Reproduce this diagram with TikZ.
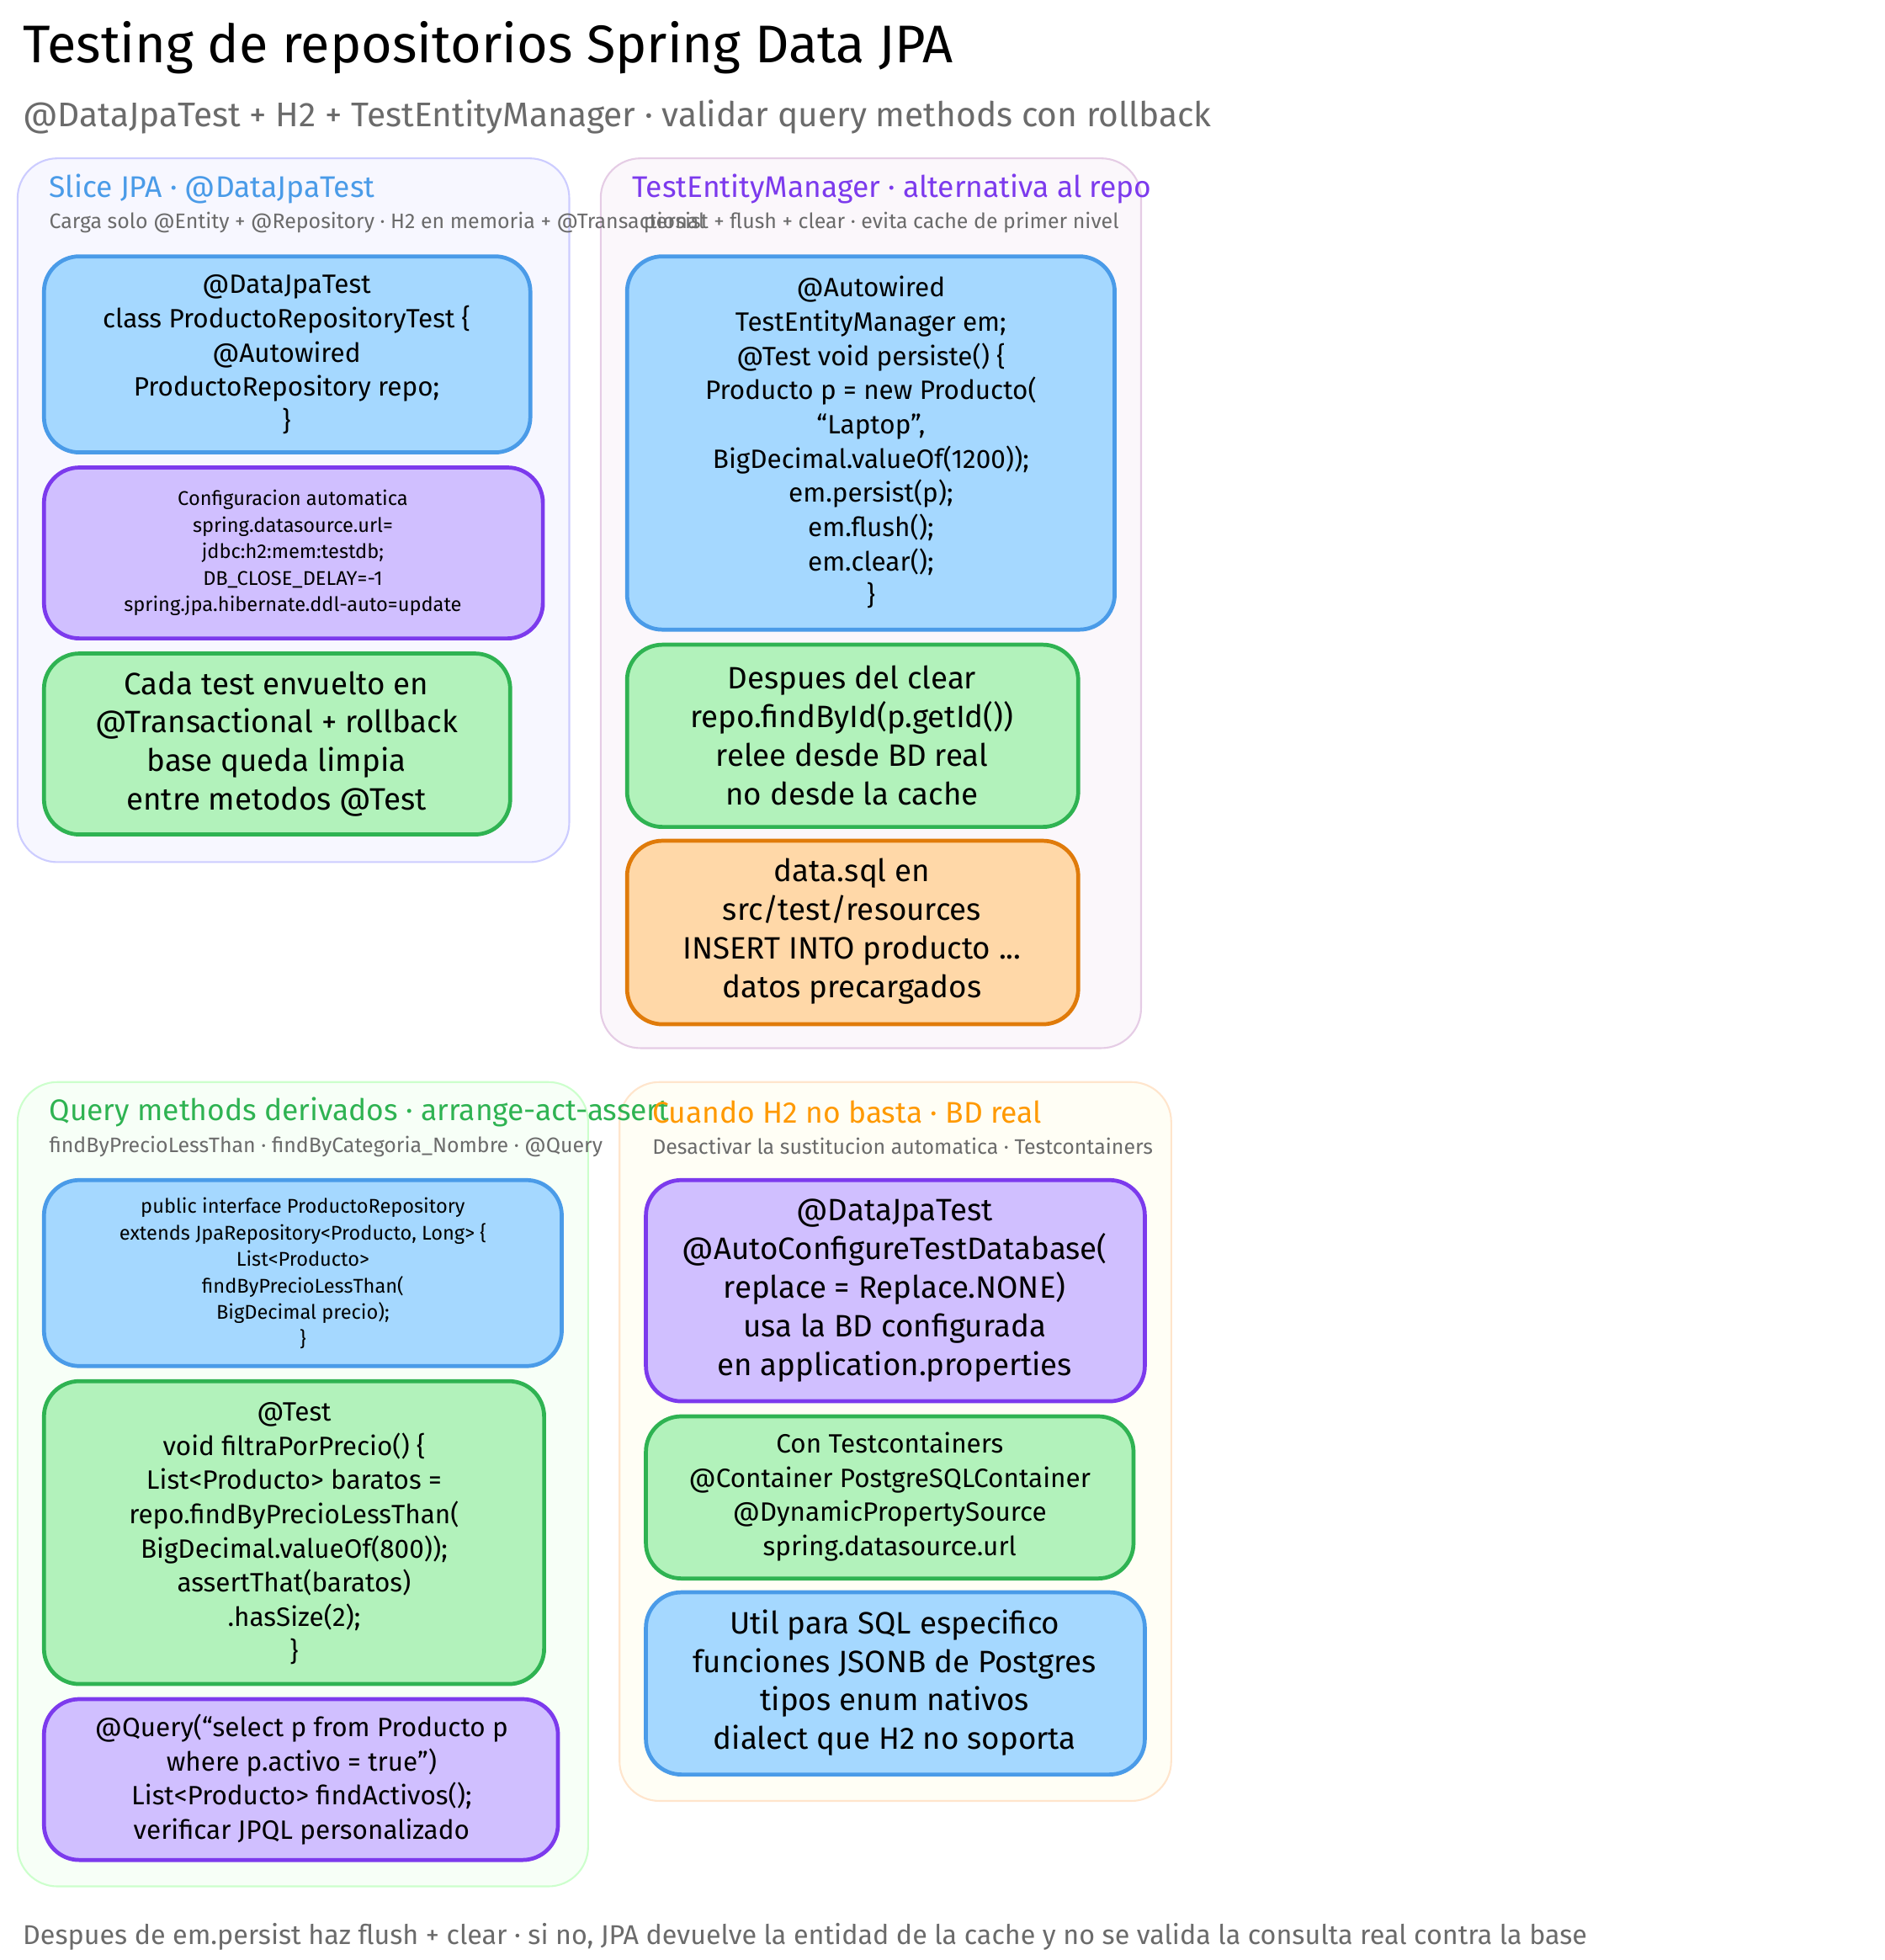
\documentclass[tikz,border=0pt]{standalone}
\usepackage{fontspec}
\setmainfont{Fira Sans}
\definecolor{bluefill}{HTML}{A5D8FF}
\definecolor{blueline}{HTML}{4A9BE8}
\definecolor{purpfill}{HTML}{D0BFFF}
\definecolor{purpline}{HTML}{7C3AED}
\definecolor{greenfill}{HTML}{B2F2BB}
\definecolor{greenline}{HTML}{2FB352}
\definecolor{orfill}{HTML}{FFD8A8}
\definecolor{orline}{HTML}{E07B0A}
\definecolor{txtgray}{HTML}{6B6B6B}
\tikzset{%
    % outer group panels
    group/.style={%
        rounded corners=18pt,
        line width=0.8pt,
    },
    % inner coloured cards
    card/.style={%
        rounded corners=16pt,
        line width=1.8pt,
    },
    blue card/.style={card, fill=bluefill, draw=blueline},
    purple card/.style={card, fill=purpfill, draw=purpline},
    green card/.style={card, fill=greenfill, draw=greenline},
    orange card/.style={card, fill=orfill, draw=orline},
    % text inside cards
    cardtext/.style={%
        align=center,
        font=\fontsize{12}{15.5}\selectfont,
    },
    smalltext/.style={%
        align=center,
        font=\fontsize{9}{12}\selectfont,
    },
    % panel headings
    heading/.style={%
        anchor=west,
        font=\fontsize{13.5}{15}\selectfont,
    },
    subheading/.style={%
        anchor=west, txtgray,
        font=\fontsize{9.5}{11}\selectfont,
    },
}
\begin{document}
\begin{tikzpicture}[x=0.02cm, y=-0.02cm]
    \path [use as bounding box] (0,0) rectangle (1500,1559.6);
    % title
    \node (T) [anchor=west, font=\fontsize{24}{28}\selectfont] at (12,38)
        {Testing de repositorios Spring Data JPA};
    \node (ST) [anchor=west, txtgray, font=\fontsize{15.5}{18}\selectfont] at (12,93)
        {@DataJpaTest + H2 + TestEntityManager · validar query methods con rollback};
    % panels
    \draw [group, fill=blue!3, draw=blue!20] (14,126) rectangle (453,686);
    \draw [group, fill=violet!3, draw=violet!20] (478,126) rectangle (908,834);
    \draw [group, fill=green!3, draw=green!20] (14,861) rectangle (468,1501);
    \draw [group, fill=yellow!4, draw=orange!20] (493,861) rectangle (932,1433);
    % panel 1
    \node (H1) [heading, blueline] at (33,150) {Slice JPA · @DataJpaTest};
    \node (S1) [subheading] at (33,177)
        {Carga solo @Entity + @Repository · H2 en memoria + @Transactional};
    \draw [blue card] (35,204) rectangle (422,360);
    \node (A1) [cardtext] at (228,282) {@DataJpaTest\\class ProductoRepositoryTest \{\\@Autowired\\ProductoRepository repo;\\\}};
    \draw [purple card] (35,372) rectangle (432,508);
    \node (B1) [smalltext] at (233,440) {Configuracion automatica\\spring.datasource.url=\\jdbc:h2:mem:testdb;\\DB\_CLOSE\_DELAY=-1\\spring.jpa.hibernate.ddl-auto=update};
    \draw [green card] (35,520) rectangle (406,664);
    \node (C1) [cardtext, font=\fontsize{14}{17.5}\selectfont] at (220,592) {Cada test envuelto en\\@Transactional + rollback\\base queda limpia\\entre metodos @Test};
    % panel 2
    \node (H2) [heading, purpline] at (497,150) {TestEntityManager · alternativa al repo};
    \node (S2) [subheading] at (506,177) {persist + flush + clear · evita cache de primer nivel};
    \draw [blue card] (499,204) rectangle (887,501);
    \node (A2) [cardtext] at (693,352) {@Autowired\\TestEntityManager em;\\@Test void persiste() \{\\Producto p = new Producto(\\``Laptop'',\\BigDecimal.valueOf(1200));\\em.persist(p);\\em.flush();\\em.clear();\\\}};
    \draw [green card] (499,513) rectangle (858,658);
    \node (B2) [cardtext, font=\fontsize{14}{17.5}\selectfont] at (678,585) {Despues del clear\\repo.findById(p.getId())\\relee desde BD real\\no desde la cache};
    \draw [orange card] (499,669) rectangle (858,815);
    \node (C2) [cardtext, font=\fontsize{14}{17.5}\selectfont] at (678,741) {data.sql en\\src/test/resources\\INSERT INTO producto ...\\datos precargados};
    % panel 3
    \node (H3) [heading, greenline] at (33,885) {Query methods derivados · arrange-act-assert};
    \node (S3) [subheading] at (33,912) {findByPrecioLessThan · findByCategoria\_Nombre · @Query};
    \draw [blue card] (35,939) rectangle (447,1087);
    \node (A3) [smalltext] at (241,1013) {public interface ProductoRepository\\extends JpaRepository<Producto, Long> \{\\List<Producto>\\findByPrecioLessThan(\\BigDecimal precio);\\\}};
    \draw [green card] (35,1099) rectangle (433,1340);
    \node (B3) [cardtext] at (234,1220) {@Test\\void filtraPorPrecio() \{\\List<Producto> baratos =\\repo.findByPrecioLessThan(\\BigDecimal.valueOf(800));\\assertThat(baratos)\\.hasSize(2);\\\}};
    \draw [purple card] (35,1352) rectangle (444,1480);
    \node (C3) [cardtext] at (240,1416) {@Query(``select p from Producto p\\where p.activo = true'')\\List<Producto> findActivos();\\verificar JPQL personalizado};
    % panel 4
    \node (H4) [heading, orange!80!yellow] at (513,885) {Cuando H2 no basta · BD real};
    \node (S4) [subheading] at (513,912) {Desactivar la sustitucion automatica · Testcontainers};
    \draw [purple card] (514,939) rectangle (911,1115);
    \node (A4) [cardtext, font=\fontsize{14}{17.5}\selectfont] at (712,1027) {@DataJpaTest\\@AutoConfigureTestDatabase(\\replace = Replace.NONE)\\usa la BD configurada\\en application.properties};
    \draw [green card] (514,1127) rectangle (902,1256);
    \node (B4) [cardtext] at (708,1191) {Con Testcontainers\\@Container PostgreSQLContainer\\@DynamicPropertySource\\spring.datasource.url};
    \draw [blue card] (514,1267) rectangle (911,1412);
    \node (C4) [cardtext, font=\fontsize{14}{17.5}\selectfont] at (712,1339) {Util para SQL especifico\\funciones JSONB de Postgres\\tipos enum nativos\\dialect que H2 no soporta};
    % footer
    \node (F) [anchor=west, txtgray, font=\fontsize{12.3}{14}\selectfont] at (12,1541)
        {Despues de em.persist haz flush + clear · si no, JPA devuelve la entidad de la cache y no se valida la consulta real contra la base};
\end{tikzpicture}
\end{document}
